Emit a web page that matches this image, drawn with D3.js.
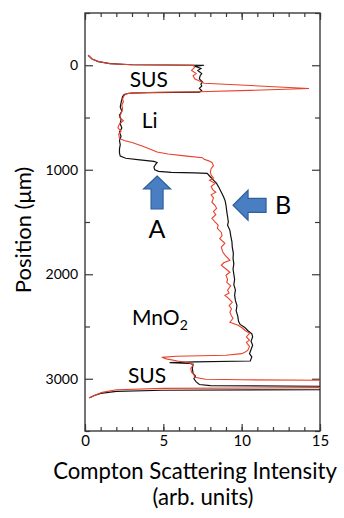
<!DOCTYPE html>
<html>
<head>
<meta charset="utf-8">
<script src="https://cdn.jsdelivr.net/npm/d3@7"></script>
<style>
  html, body { margin: 0; padding: 0; background: #fff; }
  svg { display: block; }
  text { font-family: Lato, "Open Sans", sans-serif; fill: #000; }
</style>
</head>
<body>
<svg id="chart" width="344" height="518"></svg>
<script>
// ---------------- data ----------------
const xTickMajor = [0, 5, 10, 15];
const xTickMinor = d3.range(0, 16, 1);
const yTickMajor = [0, 1000, 2000, 3000];
const yTickMinor = [-500, 500, 1500, 2500, 3500];

// black trace: position (µm) and intensity
const blackPos = [-96,-60,-35,-15,-5,0,10,30,50,80,100,130,160,180,200,220,245,258,262,268,280,300,330,360,400,440,480,520,560,600,640,680,720,760,800,840,870,890,905,920,930,950,975,1000,1015,1025,1030,1035,1060,1100,1130,1170,1215,1260,1300,1340,1400,1450,1500,1530,1580,1630,1690,1740,1800,1850,1900,1950,2000,2050,2100,2150,2200,2250,2300,2350,2400,2450,2480,2510,2540,2570,2600,2640,2680,2720,2760,2790,2810,2830,2838,2845,2852,2860,2900,2950,2975,3000,3030,3055,3065,3072,3085,3105,3110,3120,3140,3160,3182];
const blackVal = [0.2,0.45,0.85,1.6,3.0,7.6,7.0,7.4,7.2,7.45,7.35,7.3,7.5,7.4,7.45,7.3,7.45,7.3,4.0,2.8,2.5,2.4,2.35,2.3,2.25,2.35,2.2,2.3,2.25,2.35,2.2,2.3,2.2,2.25,2.2,2.2,2.25,2.6,3.5,4.4,4.6,4.5,4.4,4.45,4.7,5.5,7.0,7.8,7.95,8.2,8.4,8.55,8.7,8.85,8.95,9.0,9.05,9.1,9.15,9.1,9.25,9.3,9.38,9.4,9.47,9.45,9.5,9.45,9.5,9.55,9.5,9.6,9.55,9.6,9.7,9.65,9.75,9.8,9.9,10.2,10.4,10.65,10.7,10.6,10.7,10.6,10.5,10.65,10.6,10.55,7.0,5.4,6.6,6.9,6.85,6.9,7.05,6.95,7.1,7.3,8.0,15.5,20,15.5,5.0,2.0,1.0,0.6,0.3];

// red trace: position (µm) and intensity
const redPos = [-96,-60,-35,-15,-5,0,20,50,80,100,130,150,172,222,240,253,258,264,275,290,320,350,380,420,460,500,530,560,600,630,660,700,720,740,770,800,830,850,870,885,900,915,930,960,990,1020,1050,1080,1100,1130,1160,1190,1215,1240,1270,1311,1340,1369,1400,1430,1464,1500,1531,1560,1600,1630,1660,1703,1740,1790,1820,1866,1890,1914,1950,1981,2010,2050,2077,2110,2153,2180,2201,2235,2268,2300,2330,2364,2400,2421,2459,2488,2510,2536,2565,2600,2630,2651,2690,2727,2746,2760,2775,2785,2795,2810,2830,2850,2870,2900,2938,2960,2986,3005,3010,3015,3050,3085,3092,3105,3130,3160,3185];
const redVal = [0.2,0.45,0.85,1.6,3.0,6.9,7.0,6.8,7.1,6.9,7.0,7.3,7.6,14.3,10.5,7.3,5.0,3.0,2.6,2.5,2.4,2.45,2.35,2.4,2.3,2.2,2.45,2.2,2.1,2.3,2.15,2.2,2.5,3.0,3.6,4.1,4.6,5.3,6.5,7.5,7.6,7.9,8.1,8.2,8.05,8.0,8.05,8.2,7.95,8.3,8.05,8.15,8.35,8.05,8.2,8.1,8.3,8.4,8.2,8.35,8.1,8.3,8.5,8.45,8.7,8.75,8.6,8.93,8.7,8.8,8.95,9.25,8.85,8.7,9.0,9.25,9.0,9.1,9.05,9.3,9.1,9.2,8.93,9.2,9.4,9.2,9.35,9.25,9.35,9.45,9.25,9.77,10.0,10.2,10.5,10.3,10.5,10.3,10.5,10.4,10.2,10.0,9.0,5.8,4.9,5.2,5.9,6.7,6.9,6.75,6.8,6.95,7.0,7.7,10,15.5,18,15.5,5.0,2.0,1.1,0.6,0.25];

// region labels: [text, intensity, position]
const regionLabels = [
  {text: "SUS", v: 2.85, p: 210},
  {text: "Li", v: 3.62, p: 603},
  {text: "MnO", sub: "2", v: 3.0, p: 2488},
  {text: "SUS", v: 2.74, p: 3043}
];
const arrowA = {label: "A", v: 4.6, p: 1060};
const arrowB = {label: "B", v: 9.45, p: 1340};

// ---------------- drawing ----------------
const svg = d3.select("#chart");
const x = d3.scaleLinear().domain([0, 15]).range([85, 320]);
const y = d3.scaleLinear().domain([-500, 3500]).range([13, 431]);

svg.append("defs").append("clipPath").attr("id", "clip")
  .append("rect").attr("x", 85).attr("y", 13).attr("width", 235).attr("height", 418);

const frameColor = "#3a3a3a";

function styleAxis(g) {
  g.select(".domain").remove();
  g.selectAll(".tick line").attr("stroke", frameColor).attr("stroke-width", 1.2);
}

// minor ticks (inward) on all four sides
svg.append("g").attr("transform", "translate(0,431)")
  .call(d3.axisBottom(x).tickValues(xTickMinor).tickSize(-4).tickFormat(""))
  .call(styleAxis);
svg.append("g").attr("transform", "translate(0,13)")
  .call(d3.axisTop(x).tickValues(xTickMinor).tickSize(-4).tickFormat(""))
  .call(styleAxis);
svg.append("g").attr("transform", "translate(85,0)")
  .call(d3.axisLeft(y).tickValues(yTickMinor).tickSize(-5).tickFormat(""))
  .call(styleAxis);
svg.append("g").attr("transform", "translate(320,0)")
  .call(d3.axisRight(y).tickValues(yTickMinor).tickSize(-5).tickFormat(""))
  .call(styleAxis);

// major ticks with labels
const xAx = svg.append("g").attr("transform", "translate(0,431)")
  .call(d3.axisBottom(x).tickValues(xTickMajor).tickSize(-7).tickPadding(4).tickFormat(d3.format("d")))
  .call(styleAxis);
xAx.selectAll("text").attr("font-size", 15).attr("font-family", "Lato, sans-serif").attr("fill", "#000");
svg.append("g").attr("transform", "translate(0,13)")
  .call(d3.axisTop(x).tickValues(xTickMajor).tickSize(-7).tickFormat(""))
  .call(styleAxis);
const yAx = svg.append("g").attr("transform", "translate(85,0)")
  .call(d3.axisLeft(y).tickValues(yTickMajor).tickSize(-8).tickPadding(7).tickFormat(d3.format("d")))
  .call(styleAxis);
yAx.selectAll("text").attr("font-size", 14).attr("font-family", "Lato, sans-serif").attr("fill", "#000");
svg.append("g").attr("transform", "translate(320,0)")
  .call(d3.axisRight(y).tickValues(yTickMajor).tickSize(-8).tickFormat(""))
  .call(styleAxis);

// frame
svg.append("rect").attr("x", 85).attr("y", 13).attr("width", 235).attr("height", 418)
  .attr("fill", "none").attr("stroke", frameColor).attr("stroke-width", 1.4);

// traces
const line = d3.line().x(d => x(d[1])).y(d => y(d[0]));
const plot = svg.append("g").attr("clip-path", "url(#clip)");
plot.append("path").datum(blackPos.map((p, i) => [p, blackVal[i]]))
  .attr("d", line).attr("fill", "none").attr("stroke", "#111").attr("stroke-width", 1.2);
plot.append("path").datum(redPos.map((p, i) => [p, redVal[i]]))
  .attr("d", line).attr("fill", "none").attr("stroke", "#e8412c").attr("stroke-width", 1.1);

// region labels
regionLabels.forEach(l => {
  const t = svg.append("text").attr("x", x(l.v)).attr("y", y(l.p)).attr("font-size", 21).text(l.text);
  if (l.sub) t.append("tspan").attr("font-size", 14).attr("dy", 5).text(l.sub);
});

// arrows
const arrowFill = "#4a7ec2", arrowStroke = "#2f5f9c";
{
  const tx = x(arrowA.v), ty = y(arrowA.p);
  const pts = [[tx, ty], [tx + 13.5, ty + 13], [tx + 6, ty + 13], [tx + 6, ty + 33], [tx - 6, ty + 33], [tx - 6, ty + 13], [tx - 13.5, ty + 13]];
  svg.append("polygon").attr("points", pts.map(p => p.join(",")).join(" "))
    .attr("fill", arrowFill).attr("stroke", arrowStroke).attr("stroke-width", 1.2);
  svg.append("text").attr("x", tx).attr("y", ty + 62).attr("text-anchor", "middle").attr("font-size", 25).text(arrowA.label);
}
{
  const tx = x(arrowB.v), ty = y(arrowB.p);
  const pts = [[tx, ty], [tx + 15, ty - 15], [tx + 15, ty - 7], [tx + 33, ty - 7], [tx + 33, ty + 7], [tx + 15, ty + 7], [tx + 15, ty + 15]];
  svg.append("polygon").attr("points", pts.map(p => p.join(",")).join(" "))
    .attr("fill", arrowFill).attr("stroke", arrowStroke).attr("stroke-width", 1.2);
  svg.append("text").attr("x", tx + 42).attr("y", ty + 8.5).attr("font-size", 25).text(arrowB.label);
}

// axis titles
svg.append("text").attr("transform", "translate(31,230) rotate(-90)")
  .attr("text-anchor", "middle").attr("font-size", 22).text("Position (μm)");
const t1 = svg.append("text").attr("x", 195).attr("y", 479).attr("text-anchor", "middle")
  .attr("font-size", 20).text("Compton Scattering Intensity");
const w1 = t1.node().getComputedTextLength();
t1.attr("font-size", 20 * 284 / w1);
svg.append("text").attr("x", 203).attr("y", 505).attr("text-anchor", "middle")
  .attr("font-size", 20 * 284 / w1).text("(arb. units)");
</script>
</body>
</html>
